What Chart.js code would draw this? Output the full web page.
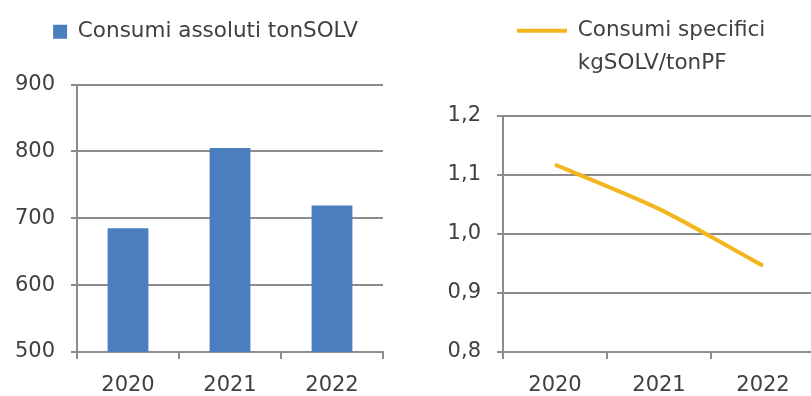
<!DOCTYPE html>
<html>
<head>
<meta charset="utf-8">
<script src="https://cdn.jsdelivr.net/npm/chart.js@4"></script>
<style>
  html, body { margin: 0; padding: 0; background: #fff; overflow: hidden; width: 811px; height: 396px; }
  #left { position: absolute; left: 0; top: 0; width: 400px; height: 396px; }
  #right { position: absolute; left: 400px; top: 0; width: 415px; height: 396px; }
</style>
</head>
<body>
<div id="left"><canvas id="absChart"></canvas></div>
<div id="right"><canvas id="specChart"></canvas></div>
<script>
// data
const years = ['2020', '2021', '2022'];
const absLabel = 'Consumi assoluti tonSOLV';
const absValues = [685, 805, 719];
const specLabel = ['Consumi specifici', 'kgSOLV/tonPF'];
const specValues = [1.117, 1.042, 0.946];

const FONT = "'DejaVu Sans', sans-serif";
const TEXT = '#404040';
const GRID = '#8c8c8c';

Chart.defaults.font.family = FONT;
Chart.defaults.color = TEXT;
Chart.defaults.animation = false;

// extra room under the legend, and an optional shift to the right
function legendTweak(gap, shift) {
    return {
        id: 'legendTweak',
        beforeInit(chart) {
            const fit = chart.legend.fit;
            chart.legend.fit = function () {
                fit.bind(chart.legend)();
                this.height += gap;
            };
        },
        afterLayout(chart) {
            chart.legend.left += shift;
        }
    };
}

function yAxisWidth(w) {
    return function (scale) { scale.width = w; };
}
function xAxisHeight(h) {
    return function (scale) { scale.height = h; };
}

// Absolute consumption (bars)
const ctx1 = document.getElementById('absChart').getContext('2d');
new Chart(ctx1, {
    type: 'bar',
    data: {
        labels: years,
        datasets: [{
            label: absLabel,
            data: absValues,
            backgroundColor: '#4a7ebf',
            barPercentage: 0.8,
            categoryPercentage: 0.5
        }]
    },
    options: {
        responsive: true,
        maintainAspectRatio: false,
        layout: { padding: { top: 11, right: 17, bottom: 0, left: 0 } },
        plugins: {
            legend: {
                position: 'top',
                labels: { boxWidth: 14, boxHeight: 14, font: { size: 21.5 }, color: TEXT }
            },
            tooltip: { enabled: false }
        },
        scales: {
            x: {
                afterFit: xAxisHeight(44),
                grid: { offset: true, drawOnChartArea: false, drawTicks: true, tickLength: 7, color: GRID, lineWidth: 2 },
                border: { color: GRID, width: 2 },
                ticks: { font: { size: 21 }, color: TEXT, padding: 14 }
            },
            y: {
                min: 500,
                max: 900,
                afterFit: yAxisWidth(77),
                grid: { color: GRID, lineWidth: 2, tickLength: 6 },
                border: { color: GRID, width: 2 },
                ticks: { stepSize: 100, font: { size: 21 }, color: TEXT, padding: 16 }
            }
        }
    },
    plugins: [legendTweak(32, 28)]
});

// Specific consumption (line)
const ctx2 = document.getElementById('specChart').getContext('2d');
new Chart(ctx2, {
    type: 'line',
    data: {
        labels: years,
        datasets: [{
            label: specLabel,
            data: specValues,
            borderColor: '#f3b61f',
            backgroundColor: '#f3b61f',
            borderWidth: 4,
            pointRadius: 0,
            tension: 0.25
        }]
    },
    options: {
        responsive: true,
        maintainAspectRatio: false,
        layout: { padding: { top: 10, right: 0, bottom: 0, left: 0 } },
        plugins: {
            legend: {
                position: 'top',
                align: 'start',
                labels: {
                    usePointStyle: true,
                    pointStyle: 'line',
                    pointStyleWidth: 50,
                    font: { size: 21.5, lineHeight: 1.5 },
                    color: TEXT
                }
            },
            tooltip: { enabled: false }
        },
        scales: {
            x: {
                offset: true,
                afterFit: xAxisHeight(44),
                grid: { offset: true, drawOnChartArea: false, drawTicks: true, tickLength: 7, color: GRID, lineWidth: 2 },
                border: { color: GRID, width: 2 },
                ticks: { font: { size: 21 }, color: TEXT, padding: 14 }
            },
            y: {
                min: 0.8,
                max: 1.2,
                afterFit: yAxisWidth(103),
                grid: { color: GRID, lineWidth: 2, tickLength: 6 },
                border: { color: GRID, width: 2 },
                ticks: {
                    stepSize: 0.1,
                    font: { size: 21 },
                    color: TEXT,
                    padding: 16,
                    callback: v => v.toFixed(1).replace('.', ',')
                }
            }
        }
    },
    plugins: [legendTweak(64, 107)]
});
</script>
</body>
</html>
